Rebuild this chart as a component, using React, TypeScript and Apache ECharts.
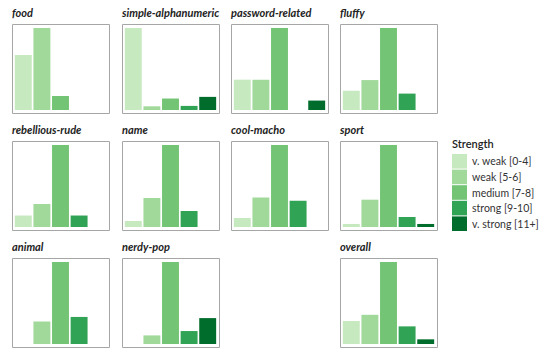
import React, { useEffect, useRef } from "react";
import * as echarts from "echarts";

const strengths = ["v. weak [0-4]", "weak [5-6]", "medium [7-8]", "strong [9-10]", "v. strong [11+]"];
const colors = ["#c7e9c0", "#a1d99b", "#74c476", "#31a354", "#006d2c"];

const panelNames = [
  "food", "simple-alphanumeric", "password-related", "fluffy",
  "rebellious-rude", "name", "cool-macho", "sport",
  "animal", "nerdy-pop", "overall",
];
// grid slot [col,row] for each panel
const panelSlots = [
  [0, 0], [1, 0], [2, 0], [3, 0],
  [0, 1], [1, 1], [2, 1], [3, 1],
  [0, 2], [1, 2], [3, 2],
];

// share of passwords (%) per strength class
const food = [67, 100, 17, 0, 0];
const simpleAlphanumeric = [100, 4.5, 14, 5, 16];
const passwordRelated = [37, 37, 100, 0, 11.5];
const fluffy = [23.5, 36.5, 100, 20, 0];
const rebelliousRude = [14, 28, 100, 14, 0];
const nameVals = [7.3, 35.4, 100, 19.5, 0];
const coolMacho = [11, 36, 100, 32, 0];
const sport = [3.7, 33.3, 100, 12.2, 3.7];
const animal = [0, 27.5, 100, 33, 0];
const nerdyPop = [0, 10.5, 100, 15.8, 31.6];
const overall = [28, 35.6, 100, 21.5, 5.7];

const panelValues = [
  food, simpleAlphanumeric, passwordRelated, fluffy,
  rebelliousRude, nameVals, coolMacho, sport,
  animal, nerdyPop, overall,
];

const colX = [12, 122, 231, 340];
const rowY = [24, 141, 258];
const boxW = 97;
const boxH = 89;
const FONT = "Lato, 'Open Sans', sans-serif";

export default function App() {
  const ref = useRef<HTMLDivElement>(null);
  useEffect(() => {
    if (!ref.current) return;
    const chart = echarts.init(ref.current, null, { renderer: "svg" });
    const grids: any[] = [];
    const xAxes: any[] = [];
    const yAxes: any[] = [];
    const series: any[] = [];
    const titles: any[] = [];
    const graphics: any[] = [];
    panelNames.forEach((name, i) => {
      const [c, r] = panelSlots[i];
      const bx = colX[c];
      const by = rowY[r];
      grids.push({ left: bx + 2, top: by + 4, width: boxW - 4, height: boxH - 7 });
      xAxes.push({ type: "category", gridIndex: i, data: strengths, show: false });
      yAxes.push({ type: "value", gridIndex: i, min: 0, max: "dataMax", show: false });
      series.push({
        type: "bar",
        xAxisIndex: i,
        yAxisIndex: i,
        barCategoryGap: "9%",
        data: panelValues[i].map((v, k) => ({ value: v, itemStyle: { color: colors[k] } })),
        silent: true,
      });
      titles.push({
        text: name,
        left: bx,
        top: by - 17,
        padding: 0,
        textStyle: { fontSize: 11, fontStyle: "italic", fontWeight: "bold", color: "#222", fontFamily: FONT },
      });
      graphics.push({
        type: "rect",
        shape: { x: bx + 0.5, y: by + 0.5, width: boxW, height: boxH },
        style: { fill: "none", stroke: "#a6a6a6", lineWidth: 1 },
        silent: true,
      });
    });
    graphics.push({
      type: "text",
      left: 452,
      top: 138,
      style: { text: "Strength", fontSize: 11, fontWeight: 600, fill: "#222", fontFamily: FONT },
    });
    strengths.forEach((s, k) => {
      const y = 154 + k * 15.6;
      graphics.push({
        type: "rect",
        shape: { x: 452, y, width: 15, height: 14.6 },
        style: { fill: colors[k] },
      });
      graphics.push({
        type: "text",
        x: 472,
        y: y + 7.3,
        style: { text: s, fontSize: 10.5, fill: "#333", fontFamily: FONT, verticalAlign: "middle" },
      });
    });
    chart.setOption({
      animation: false,
      backgroundColor: "#fff",
      title: titles,
      grid: grids,
      xAxis: xAxes,
      yAxis: yAxes,
      series,
      graphic: graphics,
    });
    return () => chart.dispose();
  }, []);
  return <div ref={ref} style={{ width: 540, height: 360, position: "absolute", left: 0, top: 0 }} />;
}
